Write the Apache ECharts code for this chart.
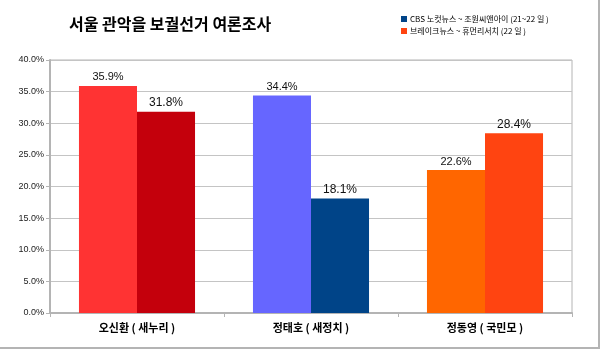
<!DOCTYPE html>
<html>
<head>
<meta charset="utf-8">
<script src="https://cdn.jsdelivr.net/npm/echarts@6/dist/echarts.min.js"></script>
<style>
  html, body { margin: 0; padding: 0; background: #fff; }
  #chart { width: 600px; height: 350px; }
</style>
</head>
<body>
<div id="chart"></div>
<script>
const categories = ['오신환 ( 새누리 )', '정태호 ( 새정치 )', '정동영 ( 국민모 )'];
const seriesNames = ['CBS 노컷뉴스 ~ 조원씨앤아이 (21~22 일 )', '브레이크뉴스 ~ 휴먼리서치 (22 일 )'];
const cbsValues = [35.9, 34.4, 22.6];
const breakValues = [31.8, 18.1, 28.4];
const cbsColors = ['#ff3333', '#6666ff', '#ff6600'];
const breakColors = ['#c4000c', '#004488', '#ff4411'];
const yTicks = [0, 5, 10, 15, 20, 25, 30, 35, 40];

const chart = echarts.init(document.getElementById('chart'));

const makeData = (vals, colors) => vals.map((v, i) => ({ value: v, itemStyle: { color: colors[i] } }));

const option = {
  animation: false,
  textStyle: { fontFamily: 'Arial, "Liberation Sans", "Noto Sans CJK KR", sans-serif' },
  title: {
    text: '서울 관악을 보궐선거 여론조사',
    left: 64,
    top: 11,
    textStyle: { fontSize: 16, fontWeight: 'bold', color: '#000', fontFamily: '"Noto Sans CJK KR", sans-serif' }
  },
  legend: {
    orient: 'vertical',
    left: 396,
    top: 10,
    itemWidth: 6,
    itemHeight: 6,
    itemGap: 4,
    icon: 'rect',
    textStyle: { fontSize: 8, color: '#000', fontFamily: '"Noto Sans CJK KR", sans-serif', padding: [0, 0, 0, -2] },
    data: seriesNames
  },
  grid: { left: 50, right: 28, top: 60, bottom: 37, show: true, borderColor: '#b4b4b4', borderWidth: 1 },
  xAxis: {
    type: 'category',
    data: categories,
    axisLine: { lineStyle: { color: '#b4b4b4', width: 2 } },
    axisTick: { show: true, length: 4, lineStyle: { color: '#b4b4b4' } },
    axisLabel: { fontSize: 11, fontWeight: 'bold', color: '#000', margin: 9, fontFamily: '"Noto Sans CJK KR", sans-serif' }
  },
  yAxis: {
    type: 'value',
    min: yTicks[0],
    max: yTicks[yTicks.length - 1],
    interval: 5,
    axisLine: { show: true, lineStyle: { color: '#b4b4b4', width: 2 } },
    axisTick: { show: true, length: 4, lineStyle: { color: '#b4b4b4' } },
    axisLabel: { fontSize: 9, color: '#222', margin: 6, formatter: v => v.toFixed(1) + '%' },
    splitLine: { lineStyle: { color: '#c4c4c4' } }
  },
  series: [
    {
      name: seriesNames[0],
      type: 'bar',
      barGap: '0%',
      barCategoryGap: '33.3%',
      itemStyle: { color: '#004488' },
      data: makeData(cbsValues, cbsColors),
      label: { show: true, position: 'top', fontSize: 11, color: '#111', distance: 3, formatter: p => p.value.toFixed(1) + '%' }
    },
    {
      name: seriesNames[1],
      type: 'bar',
      itemStyle: { color: '#ff4411' },
      data: makeData(breakValues, breakColors),
      label: { show: true, position: 'top', fontSize: 12, color: '#111', distance: 3, formatter: p => p.value.toFixed(1) + '%' }
    }
  ],
  graphic: [
    { type: 'line', shape: { x1: 599, y1: 0, x2: 599, y2: 348 }, style: { stroke: '#b4b4b4', lineWidth: 2 } },
    { type: 'line', shape: { x1: 0, y1: 348, x2: 600, y2: 348 }, style: { stroke: '#b4b4b4', lineWidth: 2 } }
  ]
};

chart.setOption(option);
</script>
</body>
</html>
